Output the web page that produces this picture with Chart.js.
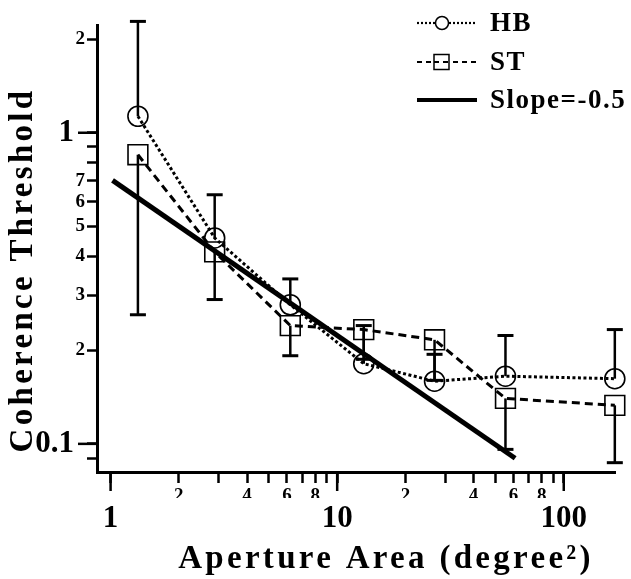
<!DOCTYPE html>
<html>
<head>
<meta charset="utf-8">
<script src="https://cdn.jsdelivr.net/npm/chart.js@4.4.0/dist/chart.umd.min.js"></script>
<style>
  body { margin: 0; background: #fff; }
  #wrap { width: 631px; height: 579px; }
</style>
</head>
<body>
<div id="wrap"><canvas id="chart" width="631" height="579"></canvas></div>
<script>
// aperture area (degree^2) of each condition
const apertureArea = [1.32, 2.88, 6.21, 13.1, 26.9, 55.3, 168];
// coherence thresholds of the two observers
const hbThreshold = [1.13, 0.459, 0.280, 0.181, 0.159, 0.165, 0.162];
const stThreshold = [0.850, 0.414, 0.240, 0.233, 0.216, 0.140, 0.133];
// one-sided error bars: HB goes up, ST goes down
const hbUpper = [2.28, 0.632, 0.339, 0.240, 0.194, 0.223, 0.233];
const stLower = [0.260, 0.291, 0.192, 0.187, 0.160, 0.096, 0.087];
// reference line, slope -0.5
const slopeX = [1.02, 61];
const slopeY = [0.703, 0.0899];

// ticks
const xTickValues = [1, 2, 3, 4, 5, 6, 7, 8, 9, 10, 20, 30, 40, 50, 60, 70, 80, 90, 100];
const xTickLabels = ['', '2', '', '4', '', '6', '', '8', '', '', '2', '', '4', '', '6', '', '8', '', ''];
const xMajorValues = [1, 10, 100];
const xMajorLabels = ['1', '10', '100'];
const yTickValues = [0.09, 0.1, 0.2, 0.3, 0.4, 0.5, 0.6, 0.7, 0.8, 0.9, 1, 2];
const yTickLabels = ['', '', '2', '3', '4', '5', '6', '7', '', '', '', '2'];
const yMajorValues = [0.1, 1];
const yMajorLabels = ['0.1', '1'];

const xTitle = 'Aperture Area (degree²)';
const yTitle = 'Coherence Threshold';

const X_MIN = 0.871, X_MAX = 169;
const Y_MIN = 0.0812, Y_MAX = 2.22;
const FONT = 'Liberation Serif';

function toPoints(xs, ys) {
    return xs.map((x, i) => ({ x: x, y: ys[i] }));
}

// error bars drawn with the chart's own scales
function drawBar(ctx, px, from, to) {
    ctx.lineWidth = 2.5;
    ctx.beginPath();
    ctx.moveTo(px, from);
    ctx.lineTo(px, to);
    ctx.stroke();
    ctx.lineWidth = 3;
    ctx.beginPath();
    ctx.moveTo(px - 8, to);
    ctx.lineTo(px + 8, to);
    ctx.stroke();
}

const errorBarPlugin = {
    id: 'errorBars',
    afterDatasetsDraw(chart) {
        const { ctx, scales: { x, y } } = chart;
        ctx.save();
        ctx.strokeStyle = '#000';
        ctx.setLineDash([]);
        apertureArea.forEach((a, i) => {
            const px = x.getPixelForValue(a);
            drawBar(ctx, px, y.getPixelForValue(hbThreshold[i]), y.getPixelForValue(hbUpper[i]));
            drawBar(ctx, px, y.getPixelForValue(stThreshold[i]), y.getPixelForValue(stLower[i]));
        });
        ctx.restore();
    }
};

// longer tick marks at the decades
const majorTickPlugin = {
    id: 'majorTicks',
    afterDraw(chart) {
        const { ctx, chartArea, scales: { x, y } } = chart;
        ctx.save();
        ctx.strokeStyle = '#000';
        ctx.lineWidth = 2.5;
        xMajorValues.forEach(v => {
            const px = x.getPixelForValue(v);
            ctx.beginPath();
            ctx.moveTo(px, chartArea.bottom);
            ctx.lineTo(px, chartArea.bottom + 19);
            ctx.stroke();
        });
        yMajorValues.forEach(v => {
            const py = y.getPixelForValue(v);
            ctx.beginPath();
            ctx.moveTo(chartArea.left, py);
            ctx.lineTo(chartArea.left - 19, py);
            ctx.stroke();
        });
        ctx.restore();
    }
};

// axis titles: the original type is set wide, so add letter spacing
const titlePlugin = {
    id: 'axisTitles',
    afterDraw(chart) {
        const ctx = chart.ctx;
        ctx.save();
        ctx.fillStyle = '#000';
        ctx.font = 'bold 33px "' + FONT + '"';
        ctx.letterSpacing = '3.3px';
        ctx.textAlign = 'center';
        ctx.textBaseline = 'middle';
        ctx.fillText(xTitle, 386, 559);
        ctx.translate(23, 270);
        ctx.rotate(-Math.PI / 2);
        ctx.fillText(yTitle, 0, 0);
        ctx.restore();
    }
};

// legend in the upper right corner
const legendPlugin = {
    id: 'cornerLegend',
    afterDraw(chart) {
        const ctx = chart.ctx;
        const rows = [
            { ds: 0, y: 23, dash: [2, 2], width: 2.2 },
            { ds: 1, y: 62, dash: [5, 4], width: 2.2 },
            { ds: 2, y: 100, dash: [], width: 4 }
        ];
        ctx.save();
        ctx.strokeStyle = '#000';
        ctx.fillStyle = '#000';
        rows.forEach(r => {
            const ds = chart.data.datasets[r.ds];
            ctx.setLineDash(r.dash);
            ctx.lineWidth = r.width;
            ctx.beginPath();
            ctx.moveTo(417, r.y);
            ctx.lineTo(477, r.y);
            ctx.stroke();
            ctx.setLineDash([]);
            ctx.lineWidth = 1.5;
            if (ds.pointStyle === 'circle') {
                ctx.fillStyle = '#fff';
                ctx.beginPath();
                ctx.arc(442, r.y, 6.5, 0, Math.PI * 2);
                ctx.fill();
                ctx.stroke();
            } else if (ds.pointStyle === 'rect') {
                ctx.fillStyle = '#fff';
                ctx.fillRect(434, r.y - 7.5, 15, 15);
                ctx.strokeRect(434, r.y - 7.5, 15, 15);
                ctx.setLineDash(r.dash);
                ctx.lineWidth = r.width;
                ctx.beginPath();
                ctx.moveTo(434, r.y);
                ctx.lineTo(449, r.y);
                ctx.stroke();
                ctx.setLineDash([]);
            }
            ctx.fillStyle = '#000';
            ctx.font = 'bold 27px "' + FONT + '"';
            ctx.letterSpacing = '1.5px';
            ctx.textBaseline = 'middle';
            ctx.textAlign = 'left';
            ctx.fillText(ds.label, 490, r.y + 1);
            ctx.letterSpacing = '0px';
        });
        ctx.restore();
    }
};

function logAxis(values, labels, extra) {
    return Object.assign({
        type: 'logarithmic',
        afterBuildTicks: s => { s.ticks = values.map(v => ({ value: v })); },
        ticks: {
            callback: (v, i) => labels[i],
            autoSkip: false,
            maxRotation: 0,
            minRotation: 0,
            color: '#000',
            font: { family: FONT, size: 19, weight: 'bold' }
        }
    }, extra);
}

const xAxis = logAxis(xTickValues, xTickLabels, {
    position: 'bottom', weight: 0, min: X_MIN, max: X_MAX,
    afterFit: s => { s.height = 26; },
    grid: { drawOnChartArea: false, drawTicks: true, tickLength: 11, tickWidth: 2.5, color: '#000' },
    border: { display: true, color: '#000', width: 3 }
});
xAxis.ticks.padding = 2;

const xMajorAxis = logAxis(xMajorValues, xMajorLabels, {
    position: 'bottom', weight: 1, min: X_MIN, max: X_MAX,
    afterFit: s => { s.height = 81; },
    grid: { display: false, drawTicks: false },
    border: { display: false }
});
xMajorAxis.ticks.padding = 2;
xMajorAxis.ticks.font = { family: FONT, size: 31, weight: 'bold' };

const yAxis = logAxis(yTickValues, yTickLabels, {
    position: 'left', weight: 0, min: Y_MIN, max: Y_MAX,
    afterFit: s => { s.width = 22; },
    grid: { drawOnChartArea: false, drawTicks: true, tickLength: 10, tickWidth: 2.5, color: '#000' },
    border: { display: true, color: '#000', width: 3 }
});
yAxis.ticks.padding = 2;

const yMajorAxis = logAxis(yMajorValues, yMajorLabels, {
    position: 'left', weight: 1, min: Y_MIN, max: Y_MAX,
    afterFit: s => { s.width = 75; },
    grid: { display: false, drawTicks: false },
    border: { display: false }
});
yMajorAxis.ticks.padding = 1;
yMajorAxis.ticks.font = { family: FONT, size: 31, weight: 'bold' };

const chart = new Chart(document.getElementById('chart'), {
    type: 'scatter',
    data: {
        datasets: [
            {
                label: 'HB',
                data: toPoints(apertureArea, hbThreshold),
                showLine: true, clip: false,
                borderColor: '#000', borderWidth: 3, borderDash: [3, 2.5],
                pointStyle: 'circle', pointRadius: 10, pointBorderWidth: 1.6,
                pointBorderColor: '#000', pointBackgroundColor: 'rgba(0,0,0,0)'
            },
            {
                label: 'ST',
                data: toPoints(apertureArea, stThreshold),
                showLine: true, clip: false,
                borderColor: '#000', borderWidth: 3, borderDash: [8, 5],
                pointStyle: 'rect', pointRadius: 14, pointBorderWidth: 1.6,
                pointBorderColor: '#000', pointBackgroundColor: 'rgba(0,0,0,0)'
            },
            {
                label: 'Slope=-0.5',
                data: toPoints(slopeX, slopeY),
                showLine: true, clip: false,
                borderColor: '#000', borderWidth: 5, borderCapStyle: 'butt',
                pointRadius: 0
            }
        ]
    },
    options: {
        responsive: false,
        animation: false,
        layout: { padding: { top: 25, right: 11, left: 0, bottom: 0 } },
        plugins: { legend: { display: false }, tooltip: { enabled: false } },
        scales: { x: xAxis, xMajor: xMajorAxis, y: yAxis, yMajor: yMajorAxis }
    },
    plugins: [errorBarPlugin, majorTickPlugin, titlePlugin, legendPlugin]
});
</script>
</body>
</html>
